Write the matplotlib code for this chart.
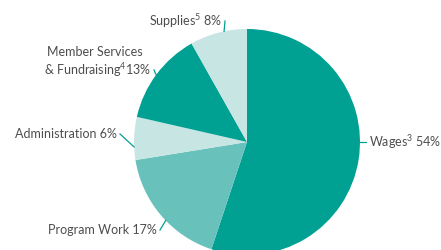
import numpy as np
import matplotlib.pyplot as plt

# Budget shares, clockwise from the top
labels = ["Wages$^{3}$ 54%", "Program Work 17%", "Administration 6%",
          "Member Services\n& Fundraising$^{4}$13%", "Supplies$^{5}$ 8%"]
shares = [54, 17, 6, 13, 8]
colors = ["#00a092", "#68c1bb", "#c7e5e3", "#00a092", "#c7e5e3"]

# where each leader line leaves the pie (degrees) and where its text sits (px)
edge_angle = [0, 224, 182.5, 143.5, 101.7]
text_pos = [(369, 142), (157, 230), (117, 134), (151, 70), (222, 21)]
text_ha = ["left", "right", "right", "right", "right"]

plt.rcParams['font.family'] = ['Lato', 'DejaVu Sans']
plt.rcParams['mathtext.fontset'] = 'custom'
plt.rcParams['mathtext.rm'] = 'Lato'
plt.rcParams['mathtext.default'] = 'rm'

fig = plt.figure(figsize=(4.41, 2.5), dpi=100)
ax = fig.add_axes([0, 0, 1, 1])

cx, cy, r = 247, 250 - 142, 113
ax.pie(shares, colors=colors, startangle=90, counterclock=False,
       center=(cx, cy), radius=r, wedgeprops=dict(linewidth=0))

style = dict(va="center", fontsize=9, color="#4d4d4d")
for lab, ang, (tx, ty), ha in zip(labels, edge_angle, text_pos, text_ha):
    a = np.radians(ang)
    ex, ey = cx + r * np.cos(a), cy + r * np.sin(a)
    lx = tx - 3 if ha == "left" else tx + 3
    ax.plot([ex, lx], [ey, 250 - ty], color="#00a092", lw=0.9)
    if "\n" in lab:
        first, second = lab.split("\n")
        ax.text(tx - 104, 250 - ty + 18, first, ha="left", **style)
        ax.text(tx, 250 - ty, second, ha="right", **style)
    else:
        ax.text(tx, 250 - ty, lab, ha=ha, **style)

ax.set_xlim(0, 441)
ax.set_ylim(0, 250)
ax.set_aspect("equal")
ax.axis("off")

fig.savefig("out.png", dpi=100)
